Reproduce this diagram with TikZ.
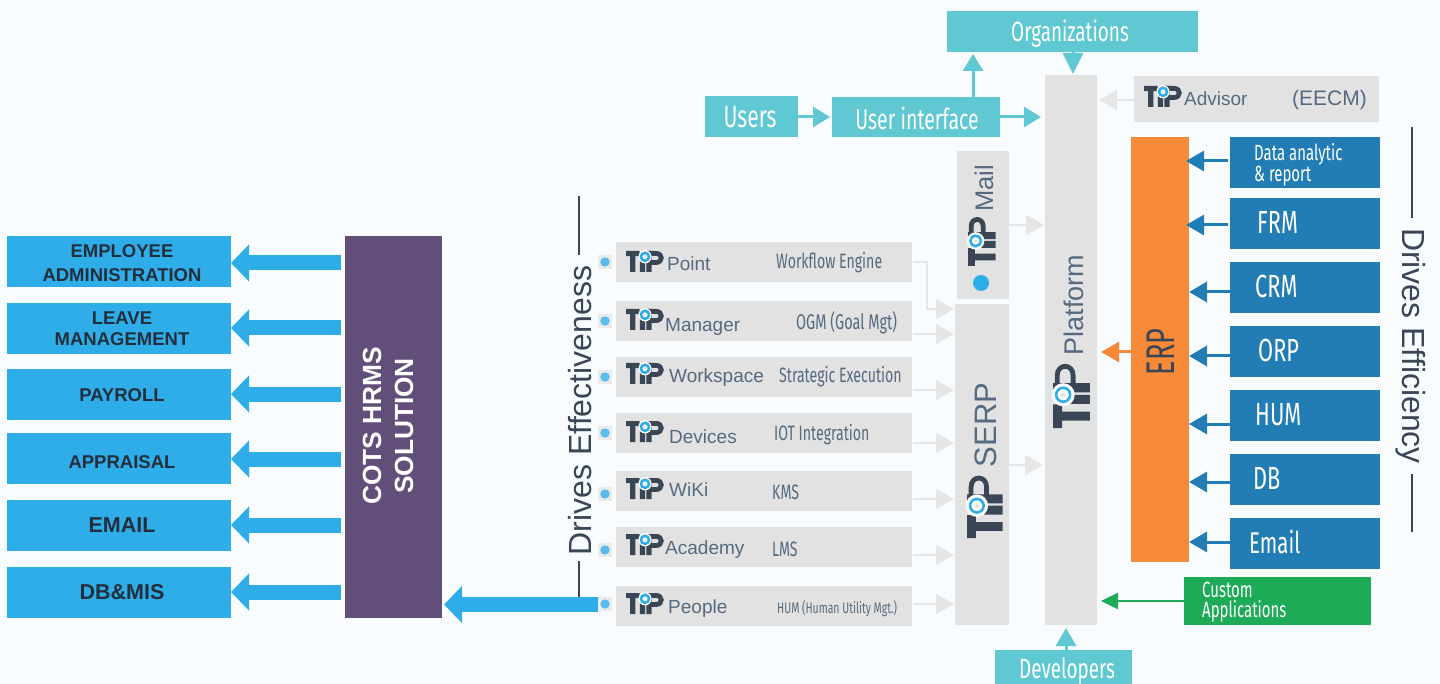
\documentclass[tikz,border=0pt]{standalone}
\usepackage{fontspec}
\usetikzlibrary{arrows.meta}
\setmainfont{Liberation Sans}
\newfontfamily\cond[FakeStretch=0.68]{Fira Sans}
\definecolor{bgc}{HTML}{F8FCFF}
\definecolor{skyb}{HTML}{2FADE8}
\definecolor{purp}{HTML}{614E79}
\definecolor{grayb}{HTML}{E2E2E2}
\definecolor{graya}{HTML}{E6E6E6}
\definecolor{teal}{HTML}{5FC8D3}
\definecolor{orng}{HTML}{F78A38}
\definecolor{deepb}{HTML}{217DB3}
\definecolor{grn}{HTML}{1EAB58}
\definecolor{dark}{HTML}{3A4656}
\definecolor{slate}{HTML}{566A7F}
\definecolor{ink}{HTML}{222E3C}
\definecolor{dotc}{HTML}{5BBBEE}
\newcommand{\fs}[2][1.0]{\fontsize{#2}{#1\dimexpr #2pt\relax}\selectfont}
\tikzset{
  x=1pt,y=-1pt,
  box/.style={anchor=north west,inner sep=0pt,outer sep=0pt,draw=none},
  lbl/.style={anchor=west,inner sep=0pt,text=slate},
  cnd/.style={anchor=west,inner sep=0pt,text=slate},
  wt/.style={anchor=west,inner sep=0pt,text=white},
  gar/.style={graya,line width=2.5pt,-{Triangle[length=18pt,width=20pt]}},
  tar/.style={teal,line width=3pt,-{Triangle[length=17pt,width=20pt]}},
  bar/.style={deepb,line width=3pt,-{Triangle[length=18pt,width=20pt]}},
  sar/.style={skyb,line width=15pt,-{Triangle[length=18pt,width=36pt]}},
  rule/.style={dark,line width=2pt},
  pics/tiplogo/.style={code={
    \fill[dark] (0,0) rectangle (13.5,5.2) (4.2,0) rectangle (9.4,21) (13.8,10) rectangle (19,21) (20.4,0) rectangle (25.6,21);
    \draw[dark,line width=4.8pt] (22,2.4) -- (30,2.4) .. controls (37,2.4) and (37,11.5) .. (30,11.5) -- (22,11.5);
    \fill[white] (19,5.8) circle (6.6);
    \draw[skyb,line width=2.6pt] (19,5.8) circle (4);
    \fill[dark!15!white] (19,5.8) circle (1.4);
  }}
}
\newcommand{\bx}[7]{\node[box,fill=#6,minimum width=#4pt-#2pt,minimum height=#5pt-#3pt,#7] (#1) at (#2,#3) {};}
\begin{document}
\begin{tikzpicture}
\useasboundingbox (0,0) rectangle (1440,684);
\fill[bgc] (0,0) rectangle (1440,684);
% left blocks
\bx{e1}{7}{236}{231}{287}{skyb}{}
\bx{e2}{7}{303}{231}{354}{skyb}{}
\bx{e3}{7}{369}{231}{420}{skyb}{}
\bx{e4}{7}{433}{231}{484}{skyb}{}
\bx{e5}{7}{500}{231}{551}{skyb}{}
\bx{e6}{7}{567}{231}{618}{skyb}{}
\node[align=center,inner sep=0pt,text=ink,font=\fontsize{18.5}{24}\selectfont\bfseries] (t1) at (122,263) {EMPLOYEE\\ADMINISTRATION};
\node[align=center,inner sep=0pt,text=ink,font=\fontsize{18.5}{21}\selectfont\bfseries] (t2) at (122,328.5) {LEAVE\\MANAGEMENT};
\node[inner sep=0pt,text=ink,font=\fs{18.5}\bfseries] (t3) at (122,395.5) {PAYROLL};
\node[inner sep=0pt,text=ink,font=\fs{18.5}\bfseries] (t4) at (122,462) {APPRAISAL};
\node[inner sep=0pt,text=ink,font=\fs{21.5}\bfseries] (t5) at (122,525) {EMAIL};
\node[inner sep=0pt,text=ink,font=\fs{21.5}\bfseries] (t6) at (122,592) {DB\&MIS};
\bx{cots}{345}{236}{442}{618}{purp}{}
\node[rotate=90,align=center,inner sep=0pt,text=white,font=\fontsize{26.3}{32}\selectfont\bfseries] (cotst) at (388,426) {COTS HRMS\\SOLUTION};
\foreach \n/\yy in {e1/263,e2/328,e3/394,e4/459,e5/525,e6/592}
  \draw[sar] ([xshift=-4pt]cots.west |- 0,\yy) -- (\n.east |- 0,\yy);
% drives effectiveness
\node[rotate=90,inner sep=0pt,text=dark,font=\fs{32}] (de) at (580,410.5) {Drives Effectiveness};
\coordinate (de1) at (579,196); \coordinate (de2) at (579,255);
\coordinate (de3) at (579,561); \coordinate (de4) at (579,597);
\draw[rule] (de1) -- (de2);
\draw[rule] (de3) -- (de4);
% rows
\bx{r1}{616}{242}{912}{282}{grayb}{}
\bx{r2}{616}{301}{912}{341}{grayb}{}
\bx{r3}{616}{357}{912}{397}{grayb}{}
\bx{r4}{616}{413}{912}{453}{grayb}{}
\bx{r5}{616}{471}{912}{511}{grayb}{}
\bx{r6}{616}{527}{912}{567}{grayb}{}
\bx{r7}{616}{586}{912}{626}{grayb}{}
\foreach \n/\yy in {d1/262,d2/321,d3/377,d4/433,d5/494,d6/550,d7/604}{
  \node[fill=grayb!70!white,minimum size=14pt,inner sep=0pt] (\n) at (605,\yy) {};
  \fill[dotc] (\n.center) circle (4.7);
}
\coordinate (bigs) at (598,604.5);
\draw[sar] (bigs) -- ([xshift=2pt]cots.east |- bigs);
\foreach \xx/\yy in {626/251,626/309,626/363,626/421,626/478,626/534,626/593}
  \pic at (\xx,\yy) {tiplogo};
\node[lbl,font=\fs{19}] (l1) at (667,263.5) {Point};
\node[lbl,font=\fs{19}] (l2) at (665,326.5) {Manager};
\node[lbl,font=\fs{19}] (l3) at (669,377.5) {Workspace};
\node[lbl,font=\fs{19}] (l4) at (669,436.5) {Devices};
\node[lbl,font=\fs{19}] (l5) at (669,490) {WiKi};
\node[lbl,font=\fs{19}] (l6) at (665,549.5) {Academy};
\node[lbl,font=\fs{19}] (l7) at (668,608.5) {People};
\node[cnd,font=\cond\fs{20.8}] (m1) at (776,263) {Workflow Engine};
\node[cnd,font=\cond\fs{21.3}] (m2) at (796,323) {OGM (Goal Mgt)};
\node[cnd,font=\cond\fs{20.8}] (m3) at (779,377) {Strategic Execution};
\node[cnd,font=\cond\fs{20.8}] (m4) at (774,435) {IOT Integration};
\node[cnd,font=\cond\fs{20.8}] (m5) at (772,492) {KMS};
\node[cnd,font=\cond\fs{20.8}] (m6) at (772,549) {LMS};
\node[cnd,font=\cond\fs{15.4}] (m7) at (777,609) {HUM (Human Utility Mgt.)};
% center columns
\bx{mail}{957}{151}{1009}{299}{grayb}{}
\bx{serp}{955}{304}{1009}{625}{grayb}{}
\bx{plat}{1045}{75}{1097}{625}{grayb}{}
\pic[rotate=90,scale=1.32] at (968,266) {tiplogo};
\pic[rotate=90,scale=1.7] at (967,538) {tiplogo};
\pic[rotate=90,scale=1.75] at (1053,428) {tiplogo};
\fill[skyb] (981,283) circle (8);
\node[rotate=90,inner sep=0pt,text=slate,font=\fs{25.5}] (mt) at (984,188.5) {Mail};
\node[rotate=90,inner sep=0pt,text=slate,font=\fs{31}] (st) at (986,425) {SERP};
\node[rotate=90,inner sep=0pt,text=slate,font=\fs{27}] (pt) at (1074,305) {Platform};
% gray connectors
\coordinate (p1) at (927,262); \coordinate (p2) at (927,309);
\draw[gar] ([xshift=1pt]r1.east |- p1) -- (p1) -- (p2) -- ([xshift=-1pt]serp.west |- p2);
\foreach \n/\yy in {r2/334,r3/390,r4/443,r5/499,r6/555,r7/604}
  \draw[gar] ([xshift=1pt]\n.east |- 0,\yy) -- ([xshift=-1pt]serp.west |- 0,\yy);
\draw[gar] (mail.east |- 0,225) -- ([xshift=-1pt]plat.west |- 0,225);
\draw[gar] (serp.east |- 0,465) -- ([xshift=-2pt]plat.west |- 0,465);
% advisor
\bx{adv}{1134}{76}{1379}{122}{grayb}{}
\pic at (1144,86) {tiplogo};
\node[lbl,font=\fs{19}] (advt) at (1184,98.5) {Advisor};
\node[lbl,font=\fs{21}] (eecm) at (1292,100) {(EECM)};
\draw[gar] (adv.west |- 0,100) -- ([xshift=2pt]plat.east |- 0,100);
% teal
\bx{users}{705}{96}{798}{137}{teal}{}
\bx{ui}{832}{97}{1000}{137}{teal}{}
\bx{org}{947}{11}{1198}{52}{teal}{}
\bx{dev}{995}{650}{1132}{684}{teal}{}
\node[inner sep=0pt,text=white,font=\cond\fs{31}] (ut) at (750,117.5) {Users};
\node[inner sep=0pt,text=white,font=\cond\fs{28.7}] (uit) at (917,118) {User interface};
\node[inner sep=0pt,text=white,font=\cond\fs{27.8}] (ot) at (1070,34) {Organizations};
\node[inner sep=0pt,text=white,font=\cond\fs{27.8}] (dt) at (1067,671.5) {Developers};
\draw[tar] (users.east |- 0,117) -- ([xshift=-2pt]ui.west |- 0,117);
\draw[tar] (ui.east |- 0,117) -- ([xshift=-4pt]plat.west |- 0,117);
\draw[tar] (973,97) -- (973 ,54);
\draw[tar,-{Triangle[length=21pt,width=20pt]}] (org.south -| 1073,0) -- ([yshift=1pt]plat.north -| 1073,0);
\draw[tar,-{Triangle[length=18pt,width=20pt]}] (dev.north -| 1066,0) -- ([yshift=-3pt]plat.south -| 1066,0);
% ERP
\bx{erp}{1131}{137}{1189}{562}{orng}{}
\node[rotate=90,inner sep=0pt,text=dark,font=\cond\fs{40}] (erpt) at (1161,352) {ERP};
\draw[orng,line width=3pt,-{Triangle[length=18pt,width=20pt]}] (erp.west |- 0,352) -- ([xshift=4pt]plat.east |- 0,352);
% blue
\bx{b1}{1230}{137}{1380}{188}{deepb}{}
\bx{b2}{1230}{198}{1380}{249}{deepb}{}
\bx{b3}{1230}{262}{1380}{313}{deepb}{}
\bx{b4}{1230}{326}{1380}{377}{deepb}{}
\bx{b5}{1230}{390}{1380}{441}{deepb}{}
\bx{b6}{1230}{454}{1380}{505}{deepb}{}
\bx{b7}{1230}{518}{1380}{569}{deepb}{}
\node[wt,align=left,font=\cond\fontsize{22}{18}\selectfont] (bt1) at (1254,164.5) {Data analytic\\\& report};
\node[wt,font=\cond\fs{32}] (bt2) at (1257,222) {FRM};
\node[wt,font=\cond\fs{32}] (bt3) at (1255,286) {CRM};
\node[wt,font=\cond\fs{32}] (bt4) at (1258,350) {ORP};
\node[wt,font=\cond\fs{32}] (bt5) at (1255,414.5) {HUM};
\node[wt,font=\cond\fs{32}] (bt6) at (1253,478) {DB};
\node[wt,font=\cond\fs{30}] (bt7) at (1249,542) {Email};
\draw[bar] ([xshift=-2pt]b1.west |- 0,161) -- ([xshift=-3pt]erp.east |- 0,161);
\draw[bar] ([xshift=-2pt]b2.west |- 0,225) -- ([xshift=-3pt]erp.east |- 0,225);
\foreach \n/\yy in {b3/292,b4/356,b5/424,b6/482,b7/542}
  \draw[bar] (\n.west |- 0,\yy) -- (erp.east |- 0,\yy);
% green
\bx{cust}{1184}{577}{1371}{625}{grn}{}
\node[wt,align=left,font=\cond\fontsize{22}{20}\selectfont] (ct) at (1202,602) {Custom\\Applications};
\draw[grn,line width=2.5pt,-{Triangle[length=17pt,width=16pt]}] (cust.west |- 0,601) -- ([xshift=4pt]plat.east |- 0,601);
% drives efficiency
\node[rotate=-90,inner sep=0pt,text=dark,font=\fs{32}] (dy) at (1411,346) {Drives Efficiency};
\coordinate (dy1) at (1412,127); \coordinate (dy2) at (1412,218);
\coordinate (dy3) at (1412,474); \coordinate (dy4) at (1412,532);
\draw[rule] (dy1) -- (dy2);
\draw[rule] (dy3) -- (dy4);
\end{tikzpicture}
\end{document}
